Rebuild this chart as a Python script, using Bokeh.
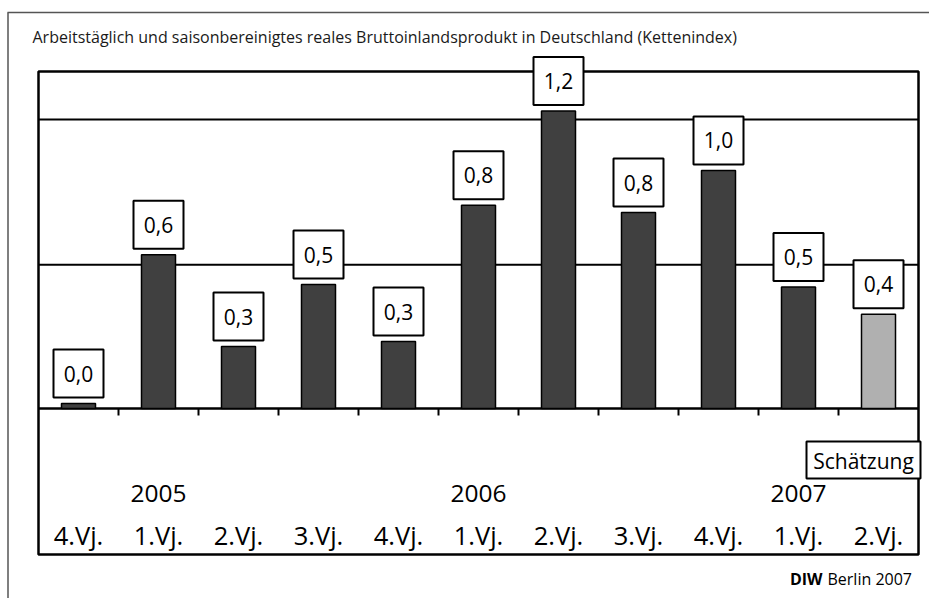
from bokeh.plotting import figure
from bokeh.models import Range1d, ColumnDataSource
from bokeh.core.properties import value
from bokeh.embed import file_html
from bokeh.resources import INLINE

# ---- data ----
quarters = ["4.Vj.", "1.Vj.", "2.Vj.", "3.Vj.", "4.Vj.", "1.Vj.", "2.Vj.", "3.Vj.", "4.Vj.", "1.Vj.", "2.Vj."]
years = ["", "2005", "", "", "", "2006", "", "", "", "2007", ""]
growth = [0.02, 0.62, 0.25, 0.50, 0.27, 0.82, 1.20, 0.79, 0.96, 0.49, 0.38]
growth_labels = ["0,0", "0,6", "0,3", "0,5", "0,3", "0,8", "1,2", "0,8", "1,0", "0,5", "0,4"]
is_estimate = [False] * 10 + [True]
grid_levels = [0.58, 1.165]

title_text = "Arbeitstäglich und saisonbereinigtes reales Bruttoinlandsprodukt in Deutschland (Kettenindex)"
estimate_text = "Schätzung"

FONT = "Open Sans"

# ---- layout (page pixel geometry) ----
W, H = 929, 598
OX, OY = 0, 0                    # page position of the figure
PX_X0, PX_STEP = 78.0, 80.0      # page x of first category centre, category spacing
PX_BASE, PX_UNIT = 408.0, 248.0  # page y of zero line, pixels per unit


def dx(px):
    return (px - PX_X0) / PX_STEP


def dy(py):
    return (PX_BASE - py) / PX_UNIT


p = figure(width=W, height=H, output_backend="svg", toolbar_location=None,
           x_range=Range1d(dx(OX), dx(OX + W)), y_range=Range1d(dy(OY + H), dy(OY)),
           min_border=0, outline_line_color=None, background_fill_color="white",
           border_fill_color="white")
p.xaxis.visible = False
p.yaxis.visible = False
p.xgrid.visible = False
p.ygrid.visible = False

n = len(quarters)
xs = list(range(n))
left_edge, right_edge = -0.5, n - 0.5

# outer page frame (top and left lines)
p.segment(x0=[dx(7), dx(7.5)], y0=[dy(12), dy(12)], x1=[dx(OX + W), dx(7.5)], y1=[dy(12), dy(OY + H)],
          line_color="#555555", line_width=1.5)

# title
p.text(x=[dx(32)], y=[dy(36)], text=[title_text], text_font=value(FONT),
       text_font_size="16px", text_align="left", text_baseline="alphabetic", text_color="#1a1a1a")

# chart box
p.quad(left=[left_edge], right=[right_edge], top=[dy(71)], bottom=[dy(554)],
       fill_color=None, line_color="black", line_width=2.5)

# gridlines
p.segment(x0=[left_edge] * len(grid_levels), x1=[right_edge] * len(grid_levels),
          y0=grid_levels, y1=grid_levels, line_color="black", line_width=2)

# zero line and ticks between categories
p.segment(x0=[left_edge], x1=[right_edge], y0=[0], y1=[0], line_color="black", line_width=2.5)
tick_x = [i + 0.5 for i in range(n - 1)]
p.segment(x0=tick_x, x1=tick_x, y0=[0] * len(tick_x), y1=[-7 / PX_UNIT] * len(tick_x),
          line_color="black", line_width=2)

# bars
colors = ["#b0b0b0" if e else "#404040" for e in is_estimate]
src = ColumnDataSource(dict(x=xs, top=growth, color=colors, label=growth_labels,
                            box_y=[v + 30 / PX_UNIT for v in growth]))
p.vbar(x="x", top="top", bottom=0, width=34 / PX_STEP, fill_color="color",
       line_color="black", line_width=1.5, source=src)

# value boxes
p.rect(x="x", y="box_y", width=50, height=48, width_units="screen", height_units="screen",
       fill_color="white", line_color="black", line_width=2, source=src)
p.text(x="x", y="box_y", text="label", text_font=value(FONT), text_font_size="21px",
       text_align="center", text_baseline="middle", text_color="black", source=src)

# category labels
p.text(x=xs, y=[dy(534)] * n, text=quarters, text_font=value(FONT), text_font_size="25.5px",
       text_align="center", text_baseline="alphabetic", text_color="black")
p.text(x=xs, y=[dy(493)] * n, text=years, text_font=value(FONT), text_font_size="24.5px",
       text_align="center", text_baseline="alphabetic", text_color="black")

# estimate box
p.quad(left=[dx(806)], right=[dx(920)], top=[dy(441)], bottom=[dy(478)],
       fill_color="white", line_color="black", line_width=2)
p.text(x=[dx(863)], y=[dy(460)], text=[estimate_text], text_font=value(FONT),
       text_font_size="21px", text_align="center", text_baseline="middle", text_color="black")

# source note
p.text(x=[dx(822)], y=[dy(578)], text=["DIW"], text_font=value(FONT), text_font_size="16px",
       text_font_style="bold", text_align="right", text_baseline="alphabetic", text_color="black")
p.text(x=[dx(827)], y=[dy(578)], text=["Berlin 2007"], text_font=value(FONT), text_font_size="16px",
       text_align="left", text_baseline="alphabetic", text_color="black")

open("out.html", "w").write(file_html(p, INLINE))
